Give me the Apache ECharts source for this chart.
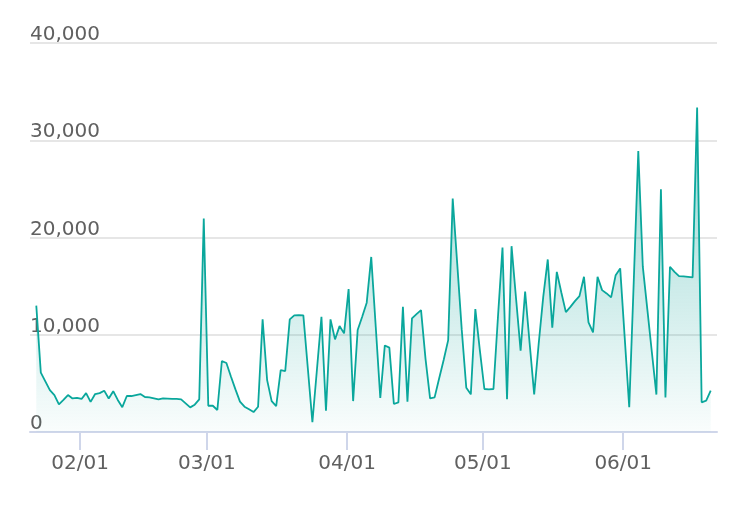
<!DOCTYPE html>
<html>
<head>
<meta charset="utf-8">
<title>chart</title>
<script src="https://cdn.jsdelivr.net/npm/echarts@6/dist/echarts.min.js"></script>
<style>
  html, body {
    margin: 0;
    padding: 0;
    background: #ffffff;
  }
  #chart {
    width: 736px;
    height: 508px;
  }
</style>
</head>
<body>
<div id="chart"></div>
<script>
  // first day of the series (local time), one value per day after that
  const startDay = [2023, 0, 22]
  const dailyValues = [
    13000, 6100, 5200, 4300, 3800, 2850, 3300, 3800, 3450, 3500,
    3400, 4000, 3100, 3900, 4000, 4250, 3450, 4200, 3300, 2550,
    3700, 3700, 3800, 3900, 3600, 3560, 3460, 3360, 3460, 3430,
    3400, 3400, 3360, 2950, 2530, 2810, 3360, 21950, 2700, 2700,
    2260, 7300, 7090, 5700, 4380, 3120, 2600, 2330, 2050, 2600,
    11580, 5340, 3180, 2670, 6370, 6270, 11580, 11990, 12020, 11990,
    6500, 1000, 6400, 11850, 2190, 11580, 9520, 10890, 10140, 14690,
    3180, 10480, 11850, 13300, 18000, 10800, 3500, 8900, 8680, 2880,
    3050, 12870, 3120, 11680, 12120, 12530, 7500, 3460, 3560, 5500,
    7400, 9450, 24000, 17300, 10500, 4550, 3870, 12640, 8400, 4420,
    4380, 4420, 11850, 18970, 3360, 19110, 13700, 8360, 14450, 9100,
    3870, 9100, 13900, 17740, 10720, 16470, 14350, 12330, 12870, 13460,
    13970, 15960, 11270, 10240, 15960, 14590, 14250, 13840, 16130, 16820,
    9700, 2550, 15500, 28900, 17000, 12600, 8200, 3850, 24950, 3560,
    16990, 16470, 16030, 16000, 15960, 15900, 33360, 3050, 3220, 4250
  ]
  const yTicks = [0, 10000, 20000, 30000, 40000]

  const DAY = 86400000
  let points = dailyValues.map(function (v, i) {
    let d = new Date(startDay[0], startDay[1], startDay[2] + i, 8)
    return [d.getTime(), v]
  })
  let firstT = points[0][0]
  let lastT = points[points.length - 1][0]

  let elem = echarts.init(document.getElementById('chart'), null, {renderer: 'canvas'})
  let option = {
    animation: false,
    grid: {
      left: 30,
      right: 19,
      top: 43,
      bottom: 76,
      containLabel: false
    },
    xAxis: {
      type: 'time',
      min: firstT - 1.39 * DAY,
      max: lastT + 1.39 * DAY,
      minInterval: 28 * DAY,
      maxInterval: 31 * DAY,
      axisLine: {
        show: true,
        lineStyle: {color: '#cfd6ea', width: 2}
      },
      axisTick: {
        show: true,
        length: 18,
        lineStyle: {color: '#cfd6ea', width: 2}
      },
      minorTick: {show: false},
      splitLine: {show: false},
      axisLabel: {
        margin: 22,
        color: '#606060',
        fontFamily: 'DejaVu Sans',
        fontSize: 20,
        formatter: '{MM}/{dd}'
      }
    },
    yAxis: {
      type: 'value',
      min: yTicks[0],
      max: yTicks[yTicks.length - 1],
      interval: 10000,
      axisLine: {show: false},
      axisTick: {show: false},
      splitLine: {
        lineStyle: {color: '#e6e6e6', width: 2}
      },
      axisLabel: {
        inside: true,
        margin: 0,
        verticalAlign: 'bottom',
        lineHeight: 16,
        color: '#606060',
        fontFamily: 'DejaVu Sans',
        fontSize: 20,
        formatter: function (v) {
          return v.toLocaleString('en-US')
        }
      }
    },
    series: [
      {
        type: 'line',
        data: points,
        showSymbol: false,
        symbol: 'none',
        lineStyle: {color: '#0aa79c', width: 1.8},
        areaStyle: {
          color: new echarts.graphic.LinearGradient(0, 0, 0, 1, [
            {offset: 0, color: 'rgba(10, 160, 150, 0.62)'},
            {offset: 1, color: 'rgba(10, 160, 150, 0.03)'}
          ])
        }
      }
    ]
  }
  elem.setOption(option)
</script>
</body>
</html>
